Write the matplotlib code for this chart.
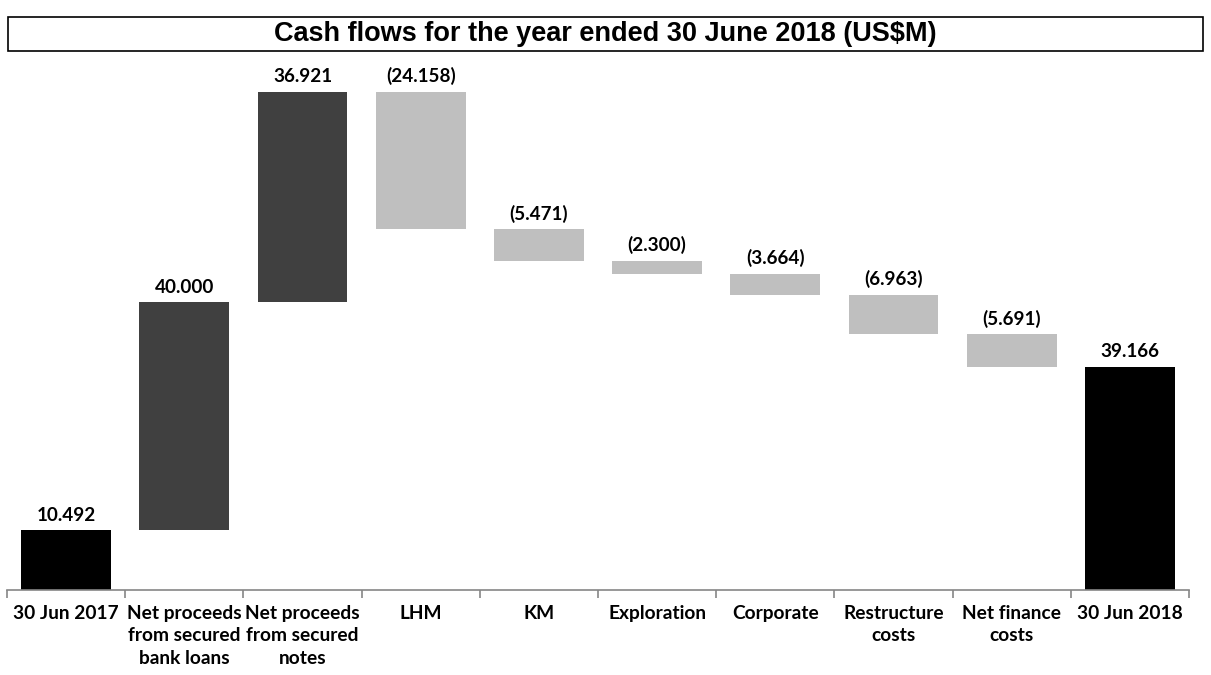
import matplotlib.pyplot as plt
from matplotlib.patches import Rectangle

categories = ["30 Jun 2017", "Net proceeds\nfrom secured\nbank loans", "Net proceeds\nfrom secured\nnotes",
              "LHM", "KM", "Exploration", "Corporate", "Restructure\ncosts", "Net finance\ncosts", "30 Jun 2018"]
values = [10.492, 40.000, 36.921, -24.158, -5.471, -2.300, -3.664, -6.963, -5.691, 39.166]
labels = ["10.492", "40.000", "36.921", "(24.158)", "(5.471)", "(2.300)", "(3.664)", "(6.963)", "(5.691)", "39.166"]
kinds = ["total", "up", "up", "down", "down", "down", "down", "down", "down", "total"]

colors = {"total": "#000000", "up": "#404040", "down": "#bfbfbf"}
font = ["Lato", "DejaVu Sans"]

fig = plt.figure(figsize=(12.11, 6.75), dpi=100)
ax = fig.add_axes([7 / 1211, 1 - 590 / 675, (1189 - 7) / 1211, (590 - 60) / 675])

running = 0.0
for i, (v, k) in enumerate(zip(values, kinds)):
    if k == "total":
        bottom, height = 0, v
        top = v
        running = v
    elif v >= 0:
        bottom, height = running, v
        running += v
        top = running
    else:
        top = running
        running += v
        bottom, height = running, -v
    ax.bar(i, height, bottom=bottom, width=0.76, color=colors[k], zorder=2)
    ax.text(i, top + 1.1, labels[i], ha="center", va="bottom", fontsize=13.6,
            fontweight="bold", family=font)

ax.set_xlim(-0.5, len(values) - 0.5)
ax.set_ylim(0, (590 - 60) / 5.70)
for s in ["top", "left", "right"]:
    ax.spines[s].set_visible(False)
ax.spines["bottom"].set_color("#868686")
ax.spines["bottom"].set_linewidth(1.2)
ax.set_yticks([])
ax.set_xticks(range(len(categories)))
ax.set_xticklabels(categories, fontsize=13.8, fontweight="bold", family=font, linespacing=1.42)
ax.tick_params(axis="x", which="major", length=0, pad=10.5)
ax.set_xticks([i - 0.5 for i in range(len(categories) + 1)], minor=True)
ax.tick_params(axis="x", which="minor", length=6, width=1.2, color="#868686")

# title box
fig.patches.append(Rectangle((8 / 1211, 1 - 51 / 675), (1203 - 8) / 1211, 34 / 675,
                             transform=fig.transFigure, fill=False, edgecolor="black", linewidth=1.2))
fig.text(0.5, 1 - 34 / 675, "Cash flows for the year ended 30 June 2018 (US$M)", ha="center", va="center",
         fontsize=19.5, fontweight="bold", family=["Liberation Sans", "DejaVu Sans"])

fig.savefig("out.png", dpi=100)
